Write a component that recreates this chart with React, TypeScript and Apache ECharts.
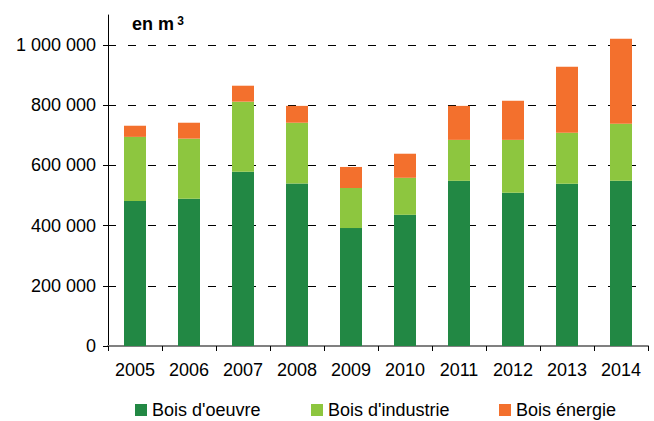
import React, { useEffect, useRef } from "react";
import * as echarts from "echarts";

const years = ["2005", "2006", "2007", "2008", "2009", "2010", "2011", "2012", "2013", "2014"];
const boisOeuvre = [482000, 489000, 579000, 540000, 392000, 436000, 549000, 509000, 539000, 549000];
const boisIndustrie = [213000, 200000, 233000, 202000, 133000, 123000, 136000, 176000, 170000, 190000];
const boisEnergie = [37000, 53000, 53000, 56000, 70000, 80000, 113000, 130000, 219000, 282000];
const seriesNames = ["Bois d'oeuvre", "Bois d'industrie", "Bois énergie"];
const colors = ["#228844", "#8DC63F", "#F3702D"];

const FONT = "'Liberation Sans', Arial, sans-serif";

function fmt(v: number): string {
  return String(v).replace(/\B(?=(\d{3})+(?!\d))/g, " ");
}

export default function App() {
  const ref = useRef<HTMLDivElement>(null);
  useEffect(() => {
    if (!ref.current) return;
    const chart = echarts.init(ref.current, null, { renderer: "svg" });
    const legendLefts = [135, 311, 499];
    chart.setOption({
      animation: false,
      textStyle: { fontFamily: FONT },
      grid: { left: 108, right: 6, top: 15, bottom: 75 },
      legend: seriesNames.map((n, i) => ({
        data: [n],
        left: legendLefts[i],
        top: 401,
        padding: 0,
        itemWidth: 12,
        itemHeight: 12,
        itemGap: 5,
        icon: "rect",
        textStyle: { fontSize: 18, lineHeight: 18, color: "#000", fontFamily: FONT },
      })),
      graphic: [
        {
          type: "text",
          left: 132,
          top: 15,
          style: {
            text: "{a|en m} {b|3}",
            rich: {
              a: { font: `bold 18px ${FONT}`, fill: "#000", verticalAlign: "bottom" },
              b: { font: `bold 12px ${FONT}`, fill: "#000", verticalAlign: "top" },
            },
          },
        },
      ],
      xAxis: {
        type: "category",
        data: years,
        axisLine: { lineStyle: { color: "#808080", width: 2 } },
        axisTick: { show: true, length: 5, lineStyle: { color: "#000" } },
        axisLabel: { color: "#000", fontSize: 18, margin: 15, fontFamily: FONT },
      },
      yAxis: {
        type: "value",
        min: 0,
        max: 1100000,
        interval: 200000,
        axisLine: { show: true, lineStyle: { color: "#000", width: 1 } },
        axisTick: { show: true, length: 5, lineStyle: { color: "#000" } },
        axisLabel: {
          color: "#000",
          fontSize: 18,
          margin: 12,
          showMaxLabel: false,
          fontFamily: FONT,
          formatter: (v: number) => (v % 200000 === 0 ? fmt(v) : ""),
        },
        splitLine: {
          show: true,
          showMinLine: false,
          showMaxLine: false,
          lineStyle: { color: "#000", width: 1, type: [8, 12] },
        },
      },
      series: [boisOeuvre, boisIndustrie, boisEnergie].map((d, i) => ({
        name: seriesNames[i],
        type: "bar",
        stack: "total",
        data: d,
        barWidth: 22,
        itemStyle: { color: colors[i] },
      })),
    });
    return () => chart.dispose();
  }, []);
  return <div ref={ref} style={{ width: 654, height: 421, position: "absolute", left: 0, top: 0 }} />;
}
